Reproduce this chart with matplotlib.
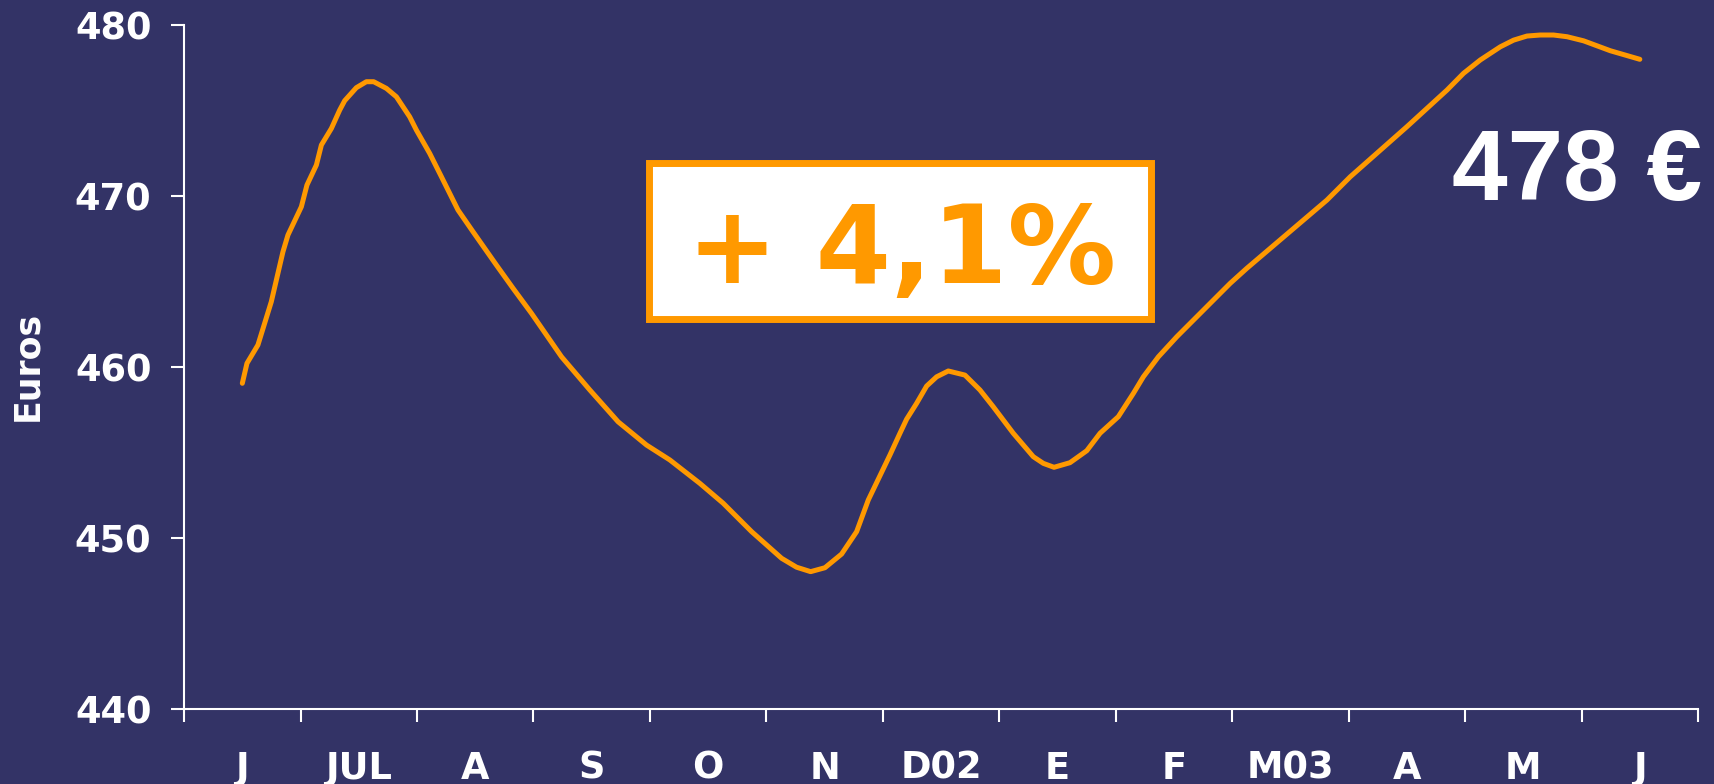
import matplotlib
matplotlib.use("Agg")
import matplotlib.pyplot as plt
from matplotlib.patches import Rectangle

# month labels (june 2002 .. june 2003), one category each
months = ['J', 'JUL', 'A', 'S', 'O', 'N', 'D02', 'E', 'F', 'M03', 'A', 'M', 'J']

# price curve, x in month units (0 = first J)
pos = [0.000, 0.040, 0.134, 0.249, 0.349, 0.392, 0.507, 0.555, 0.636, 0.679,
       0.765, 0.836, 0.879, 0.979, 1.065, 1.128, 1.237, 1.323, 1.437, 1.495,
       1.609, 1.710, 1.852, 1.981, 2.182, 2.325, 2.483, 2.741, 2.984, 3.227,
       3.471, 3.671, 3.929, 4.129, 4.373, 4.631, 4.759, 4.880, 5.003, 5.146,
       5.275, 5.375, 5.561, 5.647, 5.704, 5.790, 5.876, 5.962, 6.062, 6.205,
       6.334, 6.448, 6.620, 6.792, 6.878, 6.970, 7.107, 7.251, 7.365, 7.522,
       7.651, 7.737, 7.866, 8.024, 8.482, 8.625, 9.313, 9.513, 10.000, 10.344,
       10.486, 10.630, 10.802, 10.916, 11.031, 11.145, 11.259, 11.375, 11.517,
       11.747, 12.000]
price = [459.06, 460.23, 461.30, 463.83, 466.75, 467.73, 469.38, 470.65, 471.82, 472.99,
         473.96, 475.03, 475.58, 476.34, 476.69, 476.69, 476.30, 475.81, 474.64, 473.86,
         472.50, 471.13, 469.19, 467.92, 465.97, 464.61, 463.15, 460.61, 458.67, 456.81,
         455.45, 454.58, 453.21, 452.05, 450.39, 448.83, 448.31, 448.05, 448.28, 449.08,
         450.39, 452.24, 454.87, 456.14, 456.96, 457.89, 458.90, 459.44, 459.78, 459.54,
         458.67, 457.69, 456.14, 454.77, 454.38, 454.15, 454.42, 455.12, 456.14, 457.11,
         458.47, 459.44, 460.61, 461.78, 464.90, 465.78, 469.77, 471.13, 474.06, 476.20,
         477.18, 477.96, 478.73, 479.12, 479.36, 479.42, 479.42, 479.32, 479.08,
         478.50, 478.00]

yticks = [440, 450, 460, 470, 480]
change_label = '+ 4,1%'
last_label = '478 €'

bg = '#333366'
orange = '#ff9900'

fig = plt.figure(figsize=(17.14, 7.84), dpi=100, facecolor=bg)
ax = fig.add_axes([0.1074, 0.0952, 0.8833, 0.8728], facecolor=bg)

ax.plot(pos, price, color=orange, lw=3.6, solid_capstyle='round', solid_joinstyle='round')

ax.set_xlim(-0.5, len(months) - 0.5)
ax.set_ylim(440, 480)

# tick marks on month boundaries, labels in the middle
ax.set_xticks([i - 0.5 for i in range(len(months) + 1)])
ax.set_xticklabels([])
ax.set_xticks(range(len(months)), minor=True)
ax.set_xticklabels(months, minor=True)
ax.set_yticks(yticks)
ax.set_yticklabels([str(v) for v in yticks])

for s in ['top', 'right']:
    ax.spines[s].set_visible(False)
for s in ['left', 'bottom']:
    ax.spines[s].set_color('white')
    ax.spines[s].set_linewidth(1.5)

ax.tick_params(axis='both', which='major', colors='white', length=9.5, width=1.5, direction='out')
ax.tick_params(axis='x', which='minor', length=0, pad=29, labelsize=26.5, labelcolor='white')
ax.tick_params(axis='y', which='major', pad=14, labelsize=26.5, labelcolor='white')
for lab in ax.get_xticklabels(minor=True) + ax.get_yticklabels():
    lab.set_fontweight('bold')

fig.text(27 / 1714, 1 - 366 / 784, 'Euros', rotation=90, ha='center', va='center',
         color='white', fontsize=25, fontweight='bold')

# percentage box
ax.add_patch(Rectangle((0.3068, 0.5698), 0.6384 - 0.3068, 0.7978 - 0.5698,
                       transform=ax.transAxes, facecolor='white', edgecolor=orange,
                       lw=5, zorder=3))
ax.text(0.474, 0.6227, change_label, transform=ax.transAxes, ha='center', va='baseline',
        color=orange, fontsize=78, fontweight='bold', zorder=4)

fig.text(0.993, 1 - 200 / 784, last_label, ha='right', va='baseline',
         color='white', fontsize=72, fontweight='bold', family='Liberation Sans')

fig.savefig('out.png', dpi=100, facecolor=bg)
